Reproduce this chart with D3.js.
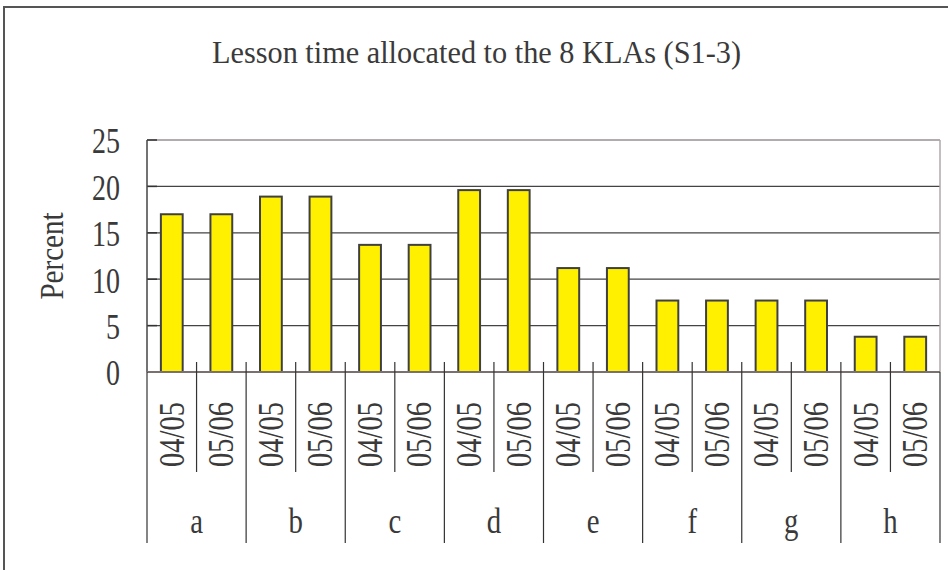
<!DOCTYPE html>
<html>
<head>
<meta charset="utf-8">
<script src="https://cdn.jsdelivr.net/npm/d3@7"></script>
<style>
html,body{margin:0;padding:0;background:#fff;}
svg{display:block;}
text{font-family:"Liberation Serif","DejaVu Serif",serif;fill:#3a3a3a;}
</style>
</head>
<body>
<svg id="chart" width="948" height="570"></svg>
<script>
const categories = ["a","b","c","d","e","f","g","h"];
const years = ["04/05","05/06"];
const values0405 = [17, 18.9, 13.7, 19.6, 11.2, 7.7, 7.7, 3.8];
const values0506 = [17, 18.9, 13.7, 19.6, 11.2, 7.7, 7.7, 3.8];
const yTicks = [0, 5, 10, 15, 20, 25];
const title = "Lesson time allocated to the 8 KLAs (S1-3)";
const yLabel = "Percent";

const data = categories.map((c, i) => ({cat: c, vals: [
  {year: years[0], v: values0405[i]},
  {year: years[1], v: values0506[i]}
]}));

const svg = d3.select("#chart");
const L = 147, R = 940, T = 140, B = 372;

// outer frame
svg.append("rect").attr("x", 4).attr("y", 7).attr("width", 980).attr("height", 620)
  .attr("fill", "none").attr("stroke", "#555").attr("stroke-width", 2);

const x = d3.scaleBand().domain(categories).range([L, R]).padding(0);
const xi = d3.scaleBand().domain(years).range([0, x.bandwidth()]).paddingInner(0.56).paddingOuter(0.28);
const y = d3.scaleLinear().domain([0, 25]).range([B, T]);

// gridlines
svg.append("g").selectAll("line").data(yTicks.filter(t => t > 0 && t < 25)).join("line")
  .attr("x1", L).attr("x2", R).attr("y1", d => y(d)).attr("y2", d => y(d))
  .attr("stroke", "#444").attr("stroke-width", 1.2);
// top & right border of plot
svg.append("line").attr("x1", L).attr("x2", R).attr("y1", y(25)).attr("y2", y(25))
  .attr("stroke", "#9a9090").attr("stroke-width", 1.5);
svg.append("line").attr("x1", R).attr("x2", R).attr("y1", y(25)).attr("y2", B)
  .attr("stroke", "#b0a8a8").attr("stroke-width", 1.5);

// y ticks (inward)
svg.append("g").selectAll("line").data(yTicks).join("line")
  .attr("x1", L).attr("x2", L + 10).attr("y1", d => y(d)).attr("y2", d => y(d))
  .attr("stroke", "#333").attr("stroke-width", 1.5);

// bars
const g = svg.append("g").selectAll("g").data(data).join("g")
  .attr("transform", d => `translate(${x(d.cat)},0)`);
g.selectAll("rect").data(d => d.vals).join("rect")
  .attr("x", d => xi(d.year)).attr("width", xi.bandwidth())
  .attr("y", d => y(d.v)).attr("height", d => y(0) - y(d.v))
  .attr("fill", "#FFF000").attr("stroke", "#404040").attr("stroke-width", 2);

// left axis line
svg.append("line").attr("x1", L).attr("x2", L).attr("y1", y(25)).attr("y2", B)
  .attr("stroke", "#444").attr("stroke-width", 1.5);
// x axis line
svg.append("line").attr("x1", L).attr("x2", R).attr("y1", B).attr("y2", B)
  .attr("stroke", "#7a7070").attr("stroke-width", 2);

// x ticks and separators
const step = x.step();
const slotBounds = [];
categories.forEach((c, i) => {
  slotBounds.push({x: x(c), major: true});
  slotBounds.push({x: x(c) + step / 2, major: false});
});
slotBounds.push({x: R, major: true});
svg.append("g").selectAll("line").data(slotBounds).join("line")
  .attr("x1", d => d.x).attr("x2", d => d.x)
  .attr("y1", d => (d.x === L || d.x === R) ? B : B - 10)
  .attr("y2", d => d.major ? 543 : 472)
  .attr("stroke", "#333").attr("stroke-width", 1.2);

// y tick labels
svg.append("g").selectAll("text").data(yTicks).join("text")
  .attr("transform", d => `translate(120,${y(d)}) scale(0.8,1)`)
  .attr("text-anchor", "end").attr("dy", "0.38em")
  .attr("font-size", 35).text(d => d);

// year labels
const yearLabels = [];
categories.forEach(c => years.forEach(yr => yearLabels.push({cat: c, year: yr})));
svg.append("g").selectAll("text").data(yearLabels).join("text")
  .attr("transform", d => `translate(${x(d.cat) + xi(d.year) + xi.bandwidth() / 2},434.5) rotate(-90) scale(0.79,1)`)
  .attr("text-anchor", "middle").attr("dy", "0.33em")
  .attr("font-size", 36).text(d => d.year);

// category labels
svg.append("g").selectAll("text").data(categories).join("text")
  .attr("transform", d => `translate(${x(d) + x.bandwidth() / 2},533) scale(0.8,1)`)
  .attr("text-anchor", "middle").attr("font-size", 36).text(d => d);

// y axis label
svg.append("text")
  .attr("transform", "translate(63,256) rotate(-90) scale(0.88,1)")
  .attr("text-anchor", "middle").attr("font-size", 33).text(yLabel);

// title
svg.append("text").attr("x", 212).attr("y", 63)
  .attr("textLength", 529).attr("lengthAdjust", "spacingAndGlyphs")
  .attr("font-size", 32).text(title);
</script>
</body>
</html>
